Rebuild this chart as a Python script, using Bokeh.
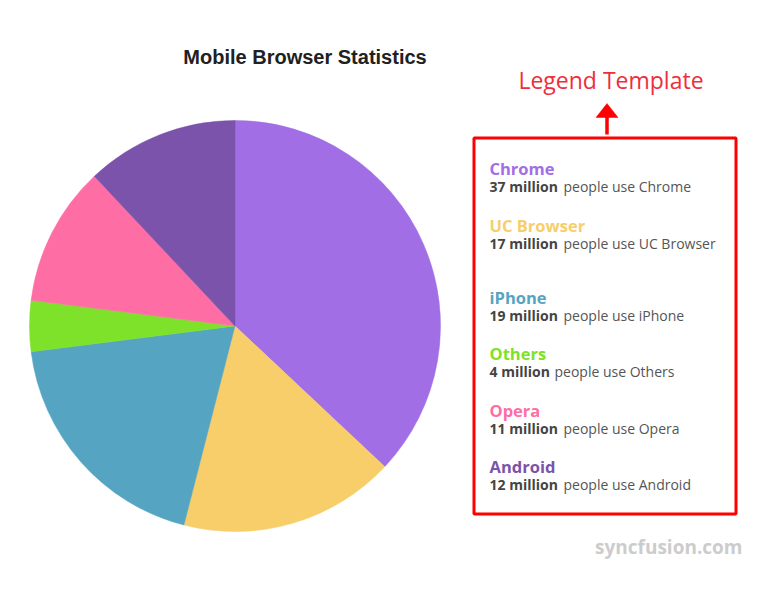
import numpy as np
from bokeh.plotting import figure
from bokeh.models import Range1d, ColumnDataSource
from bokeh.core.properties import value
from bokeh.embed import file_html
from bokeh.resources import INLINE

# ---- data ----
browsers = ["Chrome", "UC Browser", "iPhone", "Others", "Opera", "Android"]
users_million = [37, 17, 19, 4, 11, 12]
colors = ["#A16EE5", "#F7CE69", "#55A5C2", "#7DE229", "#FF6DA5", "#7B53AB"]
chart_title = "Mobile Browser Statistics"
annotation = "Legend Template"
watermark = "syncfusion.com"

# ---- layout (page pixel coordinates) ----
W, H = 749, 574
def Y(py):
    return 590 - py

p = figure(width=W, height=H, output_backend="svg", toolbar_location=None,
           x_range=Range1d(0, W), y_range=Range1d(590 - H, 590),
           x_axis_type=None, y_axis_type=None, min_border=0)
p.outline_line_color = None
p.grid.visible = False
p.background_fill_color = "white"

# pie, clockwise from 12 o'clock
vals = np.array(users_million, dtype=float)
frac = vals / vals.sum()
cum = np.concatenate([[0.0], np.cumsum(frac)])
start = np.pi / 2 - 2 * np.pi * cum[:-1]
end = np.pi / 2 - 2 * np.pi * cum[1:]
src = ColumnDataSource(dict(name=browsers, start=start, end=end, color=colors))
p.wedge(x=234.5, y=Y(325.5), radius=205.5, start_angle="start", end_angle="end",
        direction="clock", fill_color="color", line_color="color", line_width=0.5,
        source=src)

# title
p.text(x=[304.5], y=[Y(56)], text=[chart_title], text_align="center",
       text_baseline="middle", text_font=value("Liberation Sans"),
       text_font_style="bold", text_font_size="20px", text_color="#212121")

# legend box
p.quad(left=473.5, right=735.5, top=Y(137.5), bottom=Y(513.5),
       fill_color=None, line_color="#FF0000", line_width=3)
# arrow
p.segment(x0=606.5, y0=Y(134), x1=606.5, y1=Y(115), line_color="#FF0000", line_width=3.5)
p.patch(x=[595.5, 617.5, 606.5], y=[Y(117), Y(117), Y(103)], fill_color="#FF0000",
        line_color="#FF0000", line_width=0.5)
p.text(x=[610.5], y=[Y(79.5)], text=[annotation], text_align="center", text_baseline="middle",
       text_font=value("Open Sans"), text_font_size="23px", text_color="#EE2E3A")

# legend items
title_y = [168, 225, 297, 353, 410, 466]
x0 = 489
for name, v, c, ty in zip(browsers, users_million, colors, title_y):
    p.text(x=[x0], y=[Y(ty)], text=[name], text_baseline="middle",
           text_font=value("Open Sans"), text_font_style="bold",
           text_font_size="16.5px", text_color=c)
    bold = f"{v} million"
    bw = 9 * len(str(v)) + 52
    p.text(x=[x0], y=[Y(ty + 18)], text=[bold], text_baseline="middle",
           text_font=value("Open Sans"), text_font_style="bold",
           text_font_size="14px", text_color="#444444")
    p.text(x=[x0 + bw + 4], y=[Y(ty + 18)], text=[f"people use {name}"],
           text_baseline="middle", text_font=value("Open Sans"),
           text_font_size="14px", text_color="#555555")

# watermark
p.text(x=[742], y=[Y(546)], text=[watermark], text_align="right", text_baseline="middle",
       text_font=value("Open Sans"), text_font_style="bold", text_font_size="19px",
       text_color="#CCCCCC")

open("out.html", "w").write(file_html(p, INLINE))
